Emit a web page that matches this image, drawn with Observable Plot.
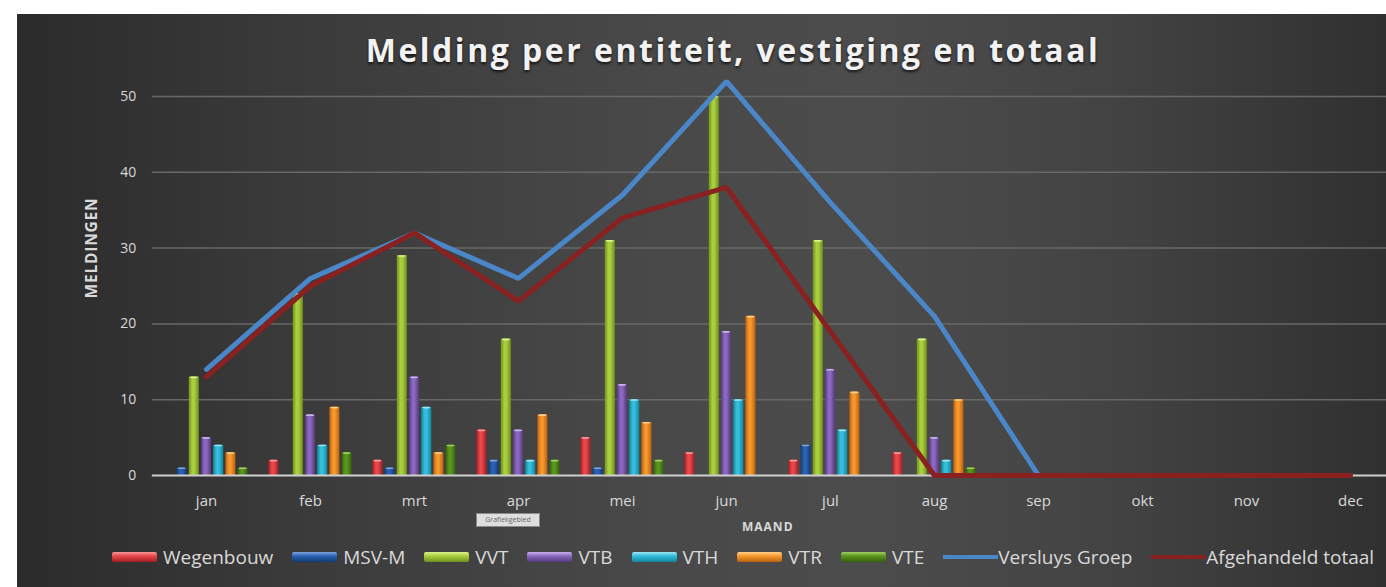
<!DOCTYPE html>
<html>
<head>
<meta charset="utf-8">
<script src="https://cdn.jsdelivr.net/npm/d3@7"></script>
<script src="https://cdn.jsdelivr.net/npm/@observablehq/plot@0.6"></script>
<style>
html, body { margin: 0; padding: 0; width: 1386px; height: 587px; overflow: hidden; background: #ffffff; font-family: "Open Sans", sans-serif; }
#panel { position: absolute; left: 17px; top: 14px; width: 1369px; height: 573px;
  background: linear-gradient(to right, #2b2b2b 0%, #3a3a3a 20%, #484848 45%, #4c4c4c 62%, #434343 80%, #303030 100%); }
#chart { position: absolute; left: 0; top: 0; width: 1420px; }
#chart svg { max-width: none !important; }
#title { position: absolute; left: 0; top: 28px; width: 1466px; text-align: center; color: #f2f2f2;
  font-size: 32px; font-weight: 700; letter-spacing: 2.5px; text-shadow: 0 2px 3px rgba(0,0,0,0.7); white-space: nowrap; }
#ylabel { position: absolute; left: 91px; top: 248px; transform: translate(-50%, -50%) rotate(-90deg);
  color: #d9d9d9; font-size: 15.5px; font-weight: 700; letter-spacing: 0.8px; white-space: nowrap; }
#xlabel { position: absolute; left: 742px; top: 521px; color: #d9d9d9; font-size: 12px; font-weight: 700; letter-spacing: 1px; line-height: 1; }
#tip { position: absolute; left: 476px; top: 513px; width: 62px; height: 12px; background: #dedede; border: 1px solid #8a8a8a;
  font-size: 7px; color: #666; text-align: center; line-height: 12px; }
#legend { position: absolute; top: 544px; left: 112px; display: flex; align-items: center; color: #d9d9d9; font-size: 19px; letter-spacing: 0px; white-space: nowrap; }
#legend .item { display: flex; align-items: center; margin-right: 19px; }
#legend .bar { width: 45px; height: 10px; border-radius: 2px; margin-right: 6px; }
#legend .line { width: 55px; height: 4px; }
</style>
</head>
<body>
<div id="panel"></div>
<div id="chart"></div>
<div id="title">Melding per entiteit, vestiging en totaal</div>
<div id="ylabel">MELDINGEN</div>
<div id="xlabel">MAAND</div>
<div id="tip">Grafiekgebied</div>
<div id="legend"></div>
<script>
// ---- data ----
const months = ["jan","feb","mrt","apr","mei","jun","jul","aug","sep","okt","nov","dec"];
const wegenbouw = [0, 2, 2, 6, 5, 3, 2, 3, 0, 0, 0, 0];
const msvM      = [1, 0, 1, 2, 1, 0, 4, 0, 0, 0, 0, 0];
const vvt       = [13, 24, 29, 18, 31, 50, 31, 18, 0, 0, 0, 0];
const vtb       = [5, 8, 13, 6, 12, 19, 14, 5, 0, 0, 0, 0];
const vth       = [4, 4, 9, 2, 10, 10, 6, 2, 0, 0, 0, 0];
const vtr       = [3, 9, 3, 8, 7, 21, 11, 10, 0, 0, 0, 0];
const vte       = [1, 3, 4, 2, 2, 0, 0, 1, 0, 0, 0, 0];
const versluysGroep     = [14, 26, 32, 26, 37, 52, 36, 21, 0, 0, 0, 0];
const afgehandeldTotaal = [13, 25, 32, 23, 34, 38, 19, 0, 0, 0, 0, 0];
const yTicks = [0, 10, 20, 30, 40, 50];

const barSeries = [
  {name: "Wegenbouw", values: wegenbouw},
  {name: "MSV-M", values: msvM},
  {name: "VVT", values: vvt},
  {name: "VTB", values: vtb},
  {name: "VTH", values: vth},
  {name: "VTR", values: vtr},
  {name: "VTE", values: vte}
];
const lineSeries = [
  {name: "Versluys Groep", values: versluysGroep},
  {name: "Afgehandeld totaal", values: afgehandeldTotaal}
];

// ---- styles ----
const barColors = [
  {dark: "#9e1f22", mid: "#e8474b", light: "#f59a9c"},
  {dark: "#143a73", mid: "#2a63b3", light: "#7fa6dc"},
  {dark: "#6f8f1e", mid: "#a9cf3c", light: "#dff08f"},
  {dark: "#54397a", mid: "#8a68c0", light: "#c8b3ec"},
  {dark: "#14849c", mid: "#33bfdc", light: "#9fe6f5"},
  {dark: "#b8610f", mid: "#f7982c", light: "#ffd08a"},
  {dark: "#355f0d", mid: "#5c951f", light: "#a3d065"}
];
const lineColors = ["#4a86c8", "#8a2121"];

const W = 1420, bw = 104.4, barW = 10.5, step = 12.2;
const mLeft = 151.8, mRight = W - (mLeft + 12 * bw);

const marks = [
  Plot.gridY(yTicks.filter(t => t > 0), {stroke: "#686868", strokeOpacity: 1, strokeWidth: 1.5}),
  Plot.axisY(yTicks, {tickSize: 0, tickPadding: 16, fontSize: 14, label: null}),
  Plot.axisX({tickSize: 0, tickPadding: 20, fontSize: 15, label: null})
];
barSeries.forEach((s, i) => {
  const data = months.map((m, j) => ({month: m, value: s.values[j]})).filter(d => d.value > 0);
  const off = (i - 3) * step;
  const inset = (bw - barW) / 2;
  marks.push(Plot.barY(data, {x: "month", y: "value", fill: `url(#bg${i})`, insetLeft: inset, insetRight: inset, dx: off}));
  marks.push(Plot.barY(data, {x: "month", y1: d => d.value - 0.22, y2: d => d.value, fill: barColors[i].light, insetLeft: inset + 1, insetRight: inset + 1, dx: off, rx: 2}));
});
marks.push(Plot.ruleY([0], {stroke: "#d0d0d0", strokeWidth: 2}));
lineSeries.forEach((s, i) => {
  const data = months.map((m, j) => ({month: m, value: s.values[j]}));
  marks.push(Plot.line(data, {x: "month", y: "value", stroke: lineColors[i], strokeWidth: 5, strokeLinejoin: "miter"}));
});

const chart = Plot.plot({
  width: W, height: 587,
  marginLeft: mLeft, marginRight: mRight, marginTop: 96, marginBottom: 112,
  style: {background: "transparent", color: "#d9d9d9", fontFamily: "Open Sans, sans-serif", overflow: "visible", maxWidth: "none"},
  x: {domain: months, padding: 0, label: null},
  y: {domain: [0, 50], label: null},
  marks
});

const defs = d3.select(chart).insert("defs", ":first-child");
barColors.forEach((c, i) => {
  const g = defs.append("linearGradient").attr("id", `bg${i}`).attr("x1", 0).attr("x2", 1).attr("y1", 0).attr("y2", 0);
  g.append("stop").attr("offset", "0%").attr("stop-color", c.dark);
  g.append("stop").attr("offset", "35%").attr("stop-color", c.mid);
  g.append("stop").attr("offset", "55%").attr("stop-color", c.mid);
  g.append("stop").attr("offset", "100%").attr("stop-color", c.dark);
});
document.getElementById("chart").appendChild(chart);

// legend
const legend = d3.select("#legend");
barSeries.forEach((s, i) => {
  const it = legend.append("div").attr("class", "item");
  it.append("div").attr("class", "bar")
    .style("background", `linear-gradient(to bottom, ${barColors[i].light} 0%, ${barColors[i].mid} 40%, ${barColors[i].dark} 100%)`);
  it.append("span").text(s.name);
});
lineSeries.forEach((s, i) => {
  const it = legend.append("div").attr("class", "item");
  it.append("div").attr("class", "line").style("background", lineColors[i]);
  it.append("span").text(s.name);
});
</script>
</body>
</html>
